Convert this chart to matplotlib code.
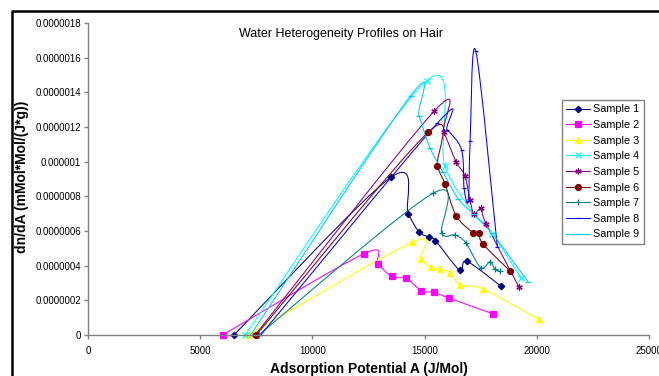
import matplotlib
matplotlib.use("Agg")
import matplotlib.pyplot as plt
import numpy as np
from matplotlib.path import Path
from matplotlib.patches import PathPatch
from matplotlib.lines import Line2D

plt.rcParams['font.family'] = ['Liberation Sans', 'DejaVu Sans']

# data: adsorption potential A (J/Mol) and dn/dA
s1_a = [6500, 13500, 14270, 14750, 15190, 15480, 16560, 16880, 18420]
s1_v = [0, 9.1e-7, 7.0e-7, 5.95e-7, 5.65e-7, 5.45e-7, 3.75e-7, 4.25e-7, 2.8e-7]
s2_a = [6000, 12300, 12920, 13530, 14180, 14850, 15420, 16090, 18070]
s2_v = [0, 4.69e-7, 4.08e-7, 3.38e-7, 3.27e-7, 2.56e-7, 2.46e-7, 2.13e-7, 1.21e-7]
s3_a = [7130, 14450, 14820, 15270, 15690, 16120, 16580, 17620, 20100]
s3_v = [0, 5.35e-7, 4.4e-7, 3.9e-7, 3.79e-7, 3.6e-7, 2.89e-7, 2.64e-7, 0.9e-7]
s4_a = [7000, 15090, 15900, 17200, 18000, 19300]
s4_v = [0, 1.467e-6, 9.77e-7, 7.0e-7, 5.85e-7, 3.3e-7]
s5_a = [7450, 15420, 15860, 16400, 16790, 17020, 17200, 17520, 17750, 19210]
s5_v = [0, 1.29e-6, 1.17e-6, 1.0e-6, 9.2e-7, 7.8e-7, 7.0e-7, 7.3e-7, 6.4e-7, 2.75e-7]
s6_a = [7500, 15150, 15570, 15910, 16410, 17170, 17410, 17600, 18810]
s6_v = [0, 1.169e-6, 9.73e-7, 8.71e-7, 6.87e-7, 5.9e-7, 5.9e-7, 5.25e-7, 3.69e-7]
s7_a = [7600, 15380, 15760, 16350, 16830, 17500, 17920, 18130, 18360]
s7_v = [0, 8.18e-7, 5.87e-7, 5.77e-7, 5.33e-7, 3.88e-7, 4.23e-7, 3.79e-7, 3.69e-7]
s8_a = [7700, 15560, 16010, 16650, 16760, 16950, 17030, 17280, 18240]
s8_v = [0, 1.221e-6, 1.183e-6, 1.067e-6, 8.46e-7, 7.75e-7, 1.121e-6, 1.639e-6, 5.1e-7]
s9_a = [7250, 14380, 14750, 15240, 15820, 16500, 17200, 17990, 19630]
s9_v = [0, 1.381e-6, 1.265e-6, 1.079e-6, 9.4e-7, 7.85e-7, 6.96e-7, 5.9e-7, 3.04e-7]

labels = ["Sample 1", "Sample 2", "Sample 3", "Sample 4", "Sample 5",
          "Sample 6", "Sample 7", "Sample 8", "Sample 9"]
xticks = [0, 5000, 10000, 15000, 20000, 25000]
yticks = [0, 2e-7, 4e-7, 6e-7, 8e-7, 1e-6, 1.2e-6, 1.4e-6, 1.6e-6, 1.8e-6]
ytick_labels = ["0", "0.0000002", "0.0000004", "0.0000006", "0.0000008",
                "0.000001", "0.0000012", "0.0000014", "0.0000016", "0.0000018"]

series = [(s1_a, s1_v), (s2_a, s2_v), (s3_a, s3_v), (s4_a, s4_v), (s5_a, s5_v),
          (s6_a, s6_v), (s7_a, s7_v), (s8_a, s8_v), (s9_a, s9_v)]
colors = ["#000080", "#FF00FF", "#FFFF00", "#00FFFF", "#800080",
          "#800000", "#008080", "#0000FF", "#00CCFF"]
markers = ["D", "s", "^", "x", (6, 2, 0), "o", "+", "_", "_"]
msizes = [3.3, 4.3, 4.3, 4.0, 4.5, 4.3, 5.0, 3.0, 4.5]


def smooth_path(xs, ys):
    # excel style smoothed line: catmull-rom segments as cubic beziers
    p = np.column_stack([xs, ys]).astype(float)
    n = len(p)
    verts = [p[0]]
    codes = [Path.MOVETO]
    for i in range(n - 1):
        p0 = p[i - 1] if i > 0 else p[i]
        p3 = p[i + 2] if i + 2 < n else p[i + 1]
        c1 = p[i] + (p[i + 1] - p0) / 6.0
        c2 = p[i + 1] - (p3 - p[i]) / 6.0
        verts += [c1, c2, p[i + 1]]
        codes += [Path.CURVE4] * 3
    return Path(verts, codes)


fig = plt.figure(figsize=[6.59, 3.76], dpi=100)
ax = fig.add_axes([88 / 659, 1 - 335 / 376, (649 - 88) / 659, (335 - 23) / 376])

handles = []
for (xa, ya), c, m, ms, lab in zip(series, colors, markers, msizes, labels):
    ax.add_patch(PathPatch(smooth_path(xa, ya), facecolor="none", edgecolor=c, lw=0.75))
    ax.plot(xa, ya, ls="none", marker=m, ms=ms, color=c, mec=c, mew=0.9, clip_on=False)
    handles.append(Line2D([], [], color=c, lw=0.75, marker=m, ms=ms, mec=c, mew=0.9))

ax.set_xlim(0, 25000)
ax.set_ylim(0, 1.8e-6)
ax.set_xticks(xticks)
ax.set_xticklabels([str(t) for t in xticks])
ax.set_yticks(yticks)
ax.set_yticklabels(ytick_labels)
for s in ["top", "right"]:
    ax.spines[s].set_visible(False)
for s in ["left", "bottom"]:
    ax.spines[s].set_color("#808080")
    ax.spines[s].set_linewidth(1.0)
ax.tick_params(axis="both", colors="#808080", labelcolor="black", labelsize=7,
               length=3, width=1.0, direction="out")
ax.tick_params(axis="y", pad=2)
ax.tick_params(axis="x", pad=5)
ax.patch.set_alpha(0)

ax.set_xlabel("Adsorption Potential A (J/Mol)", fontsize=10, fontweight="bold", labelpad=4)
ax.set_ylabel("dn/dA (mMol*Mol/(J*g))", fontsize=10, fontweight="bold")
ax.yaxis.set_label_coords(29 / 659, (376 - 177) / 376, transform=fig.transFigure)

fig.text(341 / 659, 1 - 34 / 376, "Water Heterogeneity Profiles on Hair",
         fontsize=9, ha="center", va="center")

leg = ax.legend(handles, labels, loc="upper left",
                bbox_to_anchor=(562 / 659, 1 - 100 / 376), bbox_transform=fig.transFigure,
                borderaxespad=0, fontsize=7.8, frameon=True, fancybox=False,
                handlelength=2.2, handletextpad=0.3, labelspacing=0.52,
                borderpad=0.4)
leg.get_frame().set_edgecolor("#606060")
leg.get_frame().set_linewidth(1.0)

# chart border (left and top edges visible)
fig.add_artist(Line2D([12 / 659, 12 / 659, 1.0], [0.0, 1 - 11 / 376, 1 - 11 / 376],
                      transform=fig.transFigure, color="black", lw=1.8))

fig.savefig("out.png", dpi=100)
